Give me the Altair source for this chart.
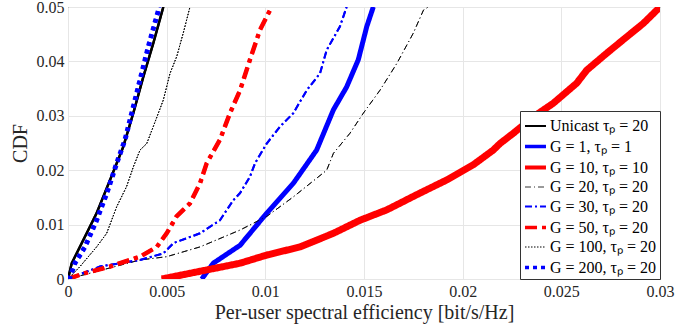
import altair as alt
import pandas as pd

series_names = ["Unicast τₚ = 20", "G = 1, τₚ = 1", "G = 10, τₚ = 10", "G = 20, τₚ = 20",
                "G = 30, τₚ = 20", "G = 50, τₚ = 20", "G = 100, τₚ = 20", "G = 200, τₚ = 20"]
series_colors = ["#000000", "#0000ff", "#ff0000", "#000000", "#0000ff", "#ff0000", "#000000", "#0000ff"]
series_widths = [2.5, 5, 7, 0.8, 2, 4.5, 1, 5]
legend_widths = [2.2, 3.5, 4, 0.8, 2, 3.5, 1, 3.5]
series_dashes = [[1, 0], [1, 0], [1, 0], [6, 3, 1, 3], [7, 3, 2, 3], [12, 5, 4, 5], [1.5, 1.5], [4, 4]]

unicast_x = [0, 0.00019, 0.00078, 0.00145, 0.00213, 0.0028, 0.00331, 0.00382, 0.00432, 0.00483]
unicast_y = [0, 0.0029, 0.0072, 0.0121, 0.0182, 0.0243, 0.0305, 0.0372, 0.0433, 0.050]

g1_x = [0.00678, 0.00736, 0.00872, 0.01007, 0.01142, 0.0126, 0.01345, 0.01412, 0.01471, 0.01514, 0.01547]
g1_y = [0, 0.0029, 0.0062, 0.0121, 0.0176, 0.0237, 0.0311, 0.0353, 0.0403, 0.0464, 0.050]

g10_x = [0.00475, 0.00872, 0.01007, 0.01176, 0.01345, 0.0148, 0.01615, 0.01784, 0.01919, 0.02054,
         0.02155, 0.02189, 0.02257, 0.02358, 0.02459, 0.02578, 0.02629, 0.0273, 0.02831, 0.02916, 0.030]
g10_y = [0, 0.0029, 0.0044, 0.0059, 0.0084, 0.0108, 0.0127, 0.0158, 0.0182, 0.0210,
         0.0237, 0.0249, 0.0268, 0.0298, 0.0323, 0.0360, 0.0384, 0.0415, 0.0445, 0.0470, 0.050]

g20_x = [0, 0.00365, 0.005, 0.00669, 0.00872, 0.01007, 0.01142, 0.01311, 0.01345, 0.01429,
         0.01497, 0.01581, 0.01666, 0.0175, 0.01801, 0.01825]
g20_y = [0, 0.0035, 0.0041, 0.0059, 0.0090, 0.0115, 0.0151, 0.0200, 0.0231, 0.0268,
         0.0305, 0.0347, 0.0396, 0.0452, 0.0494, 0.050]

g30_x = [0, 0.00162, 0.00365, 0.00483, 0.00534, 0.00669, 0.0077, 0.00838, 0.00872, 0.00922, 0.00948,
         0.01007, 0.01074, 0.01142, 0.0121, 0.01277, 0.01311, 0.01378, 0.01412]
g30_y = [0, 0.0023, 0.0035, 0.0047, 0.0066, 0.0084, 0.0108, 0.0145, 0.0158, 0.0188, 0.0213,
         0.0249, 0.0280, 0.0305, 0.0347, 0.0378, 0.0421, 0.0464, 0.050]

g50_x = [0, 0.00078, 0.00213, 0.00365, 0.0045, 0.005, 0.0055, 0.00618, 0.00669, 0.00703, 0.0077,
         0.00821, 0.00872, 0.00922, 0.00973, 0.01032]
g50_y = [0, 0.0010, 0.0023, 0.0041, 0.0059, 0.0084, 0.0115, 0.0139, 0.0176, 0.0213, 0.0256,
         0.0305, 0.0347, 0.0403, 0.0458, 0.050]

g100_x = [0, 0.00061, 0.00145, 0.00196, 0.00247, 0.00297, 0.00331, 0.00365, 0.00399, 0.00432,
          0.00483, 0.00517, 0.00551, 0.00584, 0.00618]
g100_y = [0, 0.0023, 0.0059, 0.0084, 0.0133, 0.0170, 0.0206, 0.0237, 0.0249, 0.0280,
          0.0329, 0.0378, 0.0409, 0.0452, 0.050]

g200_x = [0, 0.0001, 0.00035, 0.00086, 0.00145, 0.00196, 0.00247, 0.00289, 0.00323, 0.00365,
          0.00407, 0.00449, 0.00463]
g200_y = [0, 0.0003, 0.0029, 0.0059, 0.0108, 0.0157, 0.0213, 0.0256, 0.0305, 0.0366,
          0.0427, 0.0482, 0.050]

x_ticks = [0, 0.005, 0.01, 0.015, 0.02, 0.025, 0.03]
y_ticks = [0, 0.01, 0.02, 0.03, 0.04, 0.05]

all_x = [unicast_x, g1_x, g10_x, g20_x, g30_x, g50_x, g100_x, g200_x]
all_y = [unicast_y, g1_y, g10_y, g20_y, g30_y, g50_y, g100_y, g200_y]

rows = []
for name, xs, ys in zip(series_names, all_x, all_y):
    for i, (xv, yv) in enumerate(zip(xs, ys)):
        rows.append({"series": name, "x": xv, "y": yv, "order": i})
df = pd.DataFrame(rows)

FONT = "Liberation Serif"

legend = alt.Legend(
    title=None, orient="bottom-right", offset=0, symbolType="stroke", symbolSize=440,
    labelFont=FONT, labelFontSize=16, labelColor="#000", fillColor="white",
    strokeColor="#333", padding=3, rowPadding=-1, labelOffset=2, symbolOffset=0,
    labelLimit=300,
)

x_enc = alt.X("x:Q", scale=alt.Scale(domain=[0, 0.03], nice=False),
              axis=alt.Axis(values=x_ticks, format="~g", title="Per-user spectral efficiency [bit/s/Hz]",
                            titlePadding=3, labelFlush=False, labelOverlap=False))
y_enc = alt.Y("y:Q", scale=alt.Scale(domain=[0, 0.05], nice=False),
              axis=alt.Axis(values=y_ticks, format="~g", title="CDF", titlePadding=6,
                            labelFlush=False, labelOverlap=False))

base = alt.Chart(df)

# legend-bearing layer (narrower copies, fully covered by the main lines)
legend_layer = base.mark_line(clip=True).encode(
    x=x_enc, y=y_enc,
    color=alt.Color("series:N", scale=alt.Scale(domain=series_names, range=series_colors), legend=legend),
    strokeWidth=alt.StrokeWidth("series:N", scale=alt.Scale(type="ordinal", domain=series_names, range=legend_widths), legend=legend),
    strokeDash=alt.StrokeDash("series:N", scale=alt.Scale(domain=series_names, range=series_dashes), legend=legend),
    order="order:Q",
)

main_layer = base.mark_line(clip=True).encode(
    x=x_enc, y=y_enc,
    color=alt.Color("series:N", scale=alt.Scale(domain=series_names, range=series_colors), legend=None),
    strokeWidth=alt.StrokeWidth("series:N", scale=alt.Scale(type="ordinal", domain=series_names, range=series_widths), legend=None),
    strokeDash=alt.StrokeDash("series:N", scale=alt.Scale(domain=series_names, range=series_dashes), legend=None),
    order="order:Q",
)

chart = alt.layer(legend_layer, main_layer).resolve_scale(
    color="independent", strokeWidth="independent", strokeDash="independent"
).resolve_legend(
    color="independent", strokeWidth="independent", strokeDash="independent"
).properties(
    width=592, height=272,
    autosize=alt.AutoSizeParams(type="none"),
    padding={"left": 68, "top": 7, "right": 17, "bottom": 49},
).configure(
    font=FONT
).configure_view(
    stroke="#262626", strokeWidth=1
).configure_axis(
    labelFont=FONT, titleFont=FONT, labelFontSize=16, titleFontSize=20,
    labelColor="#262626", titleColor="#262626", titleFontWeight="normal",
    grid=True, gridColor="#e6e6e6", gridWidth=1, domain=False, ticks=False,
    labelPadding=4,
)

chart.save("out.html", embed_options={"renderer": "svg", "actions": False})
